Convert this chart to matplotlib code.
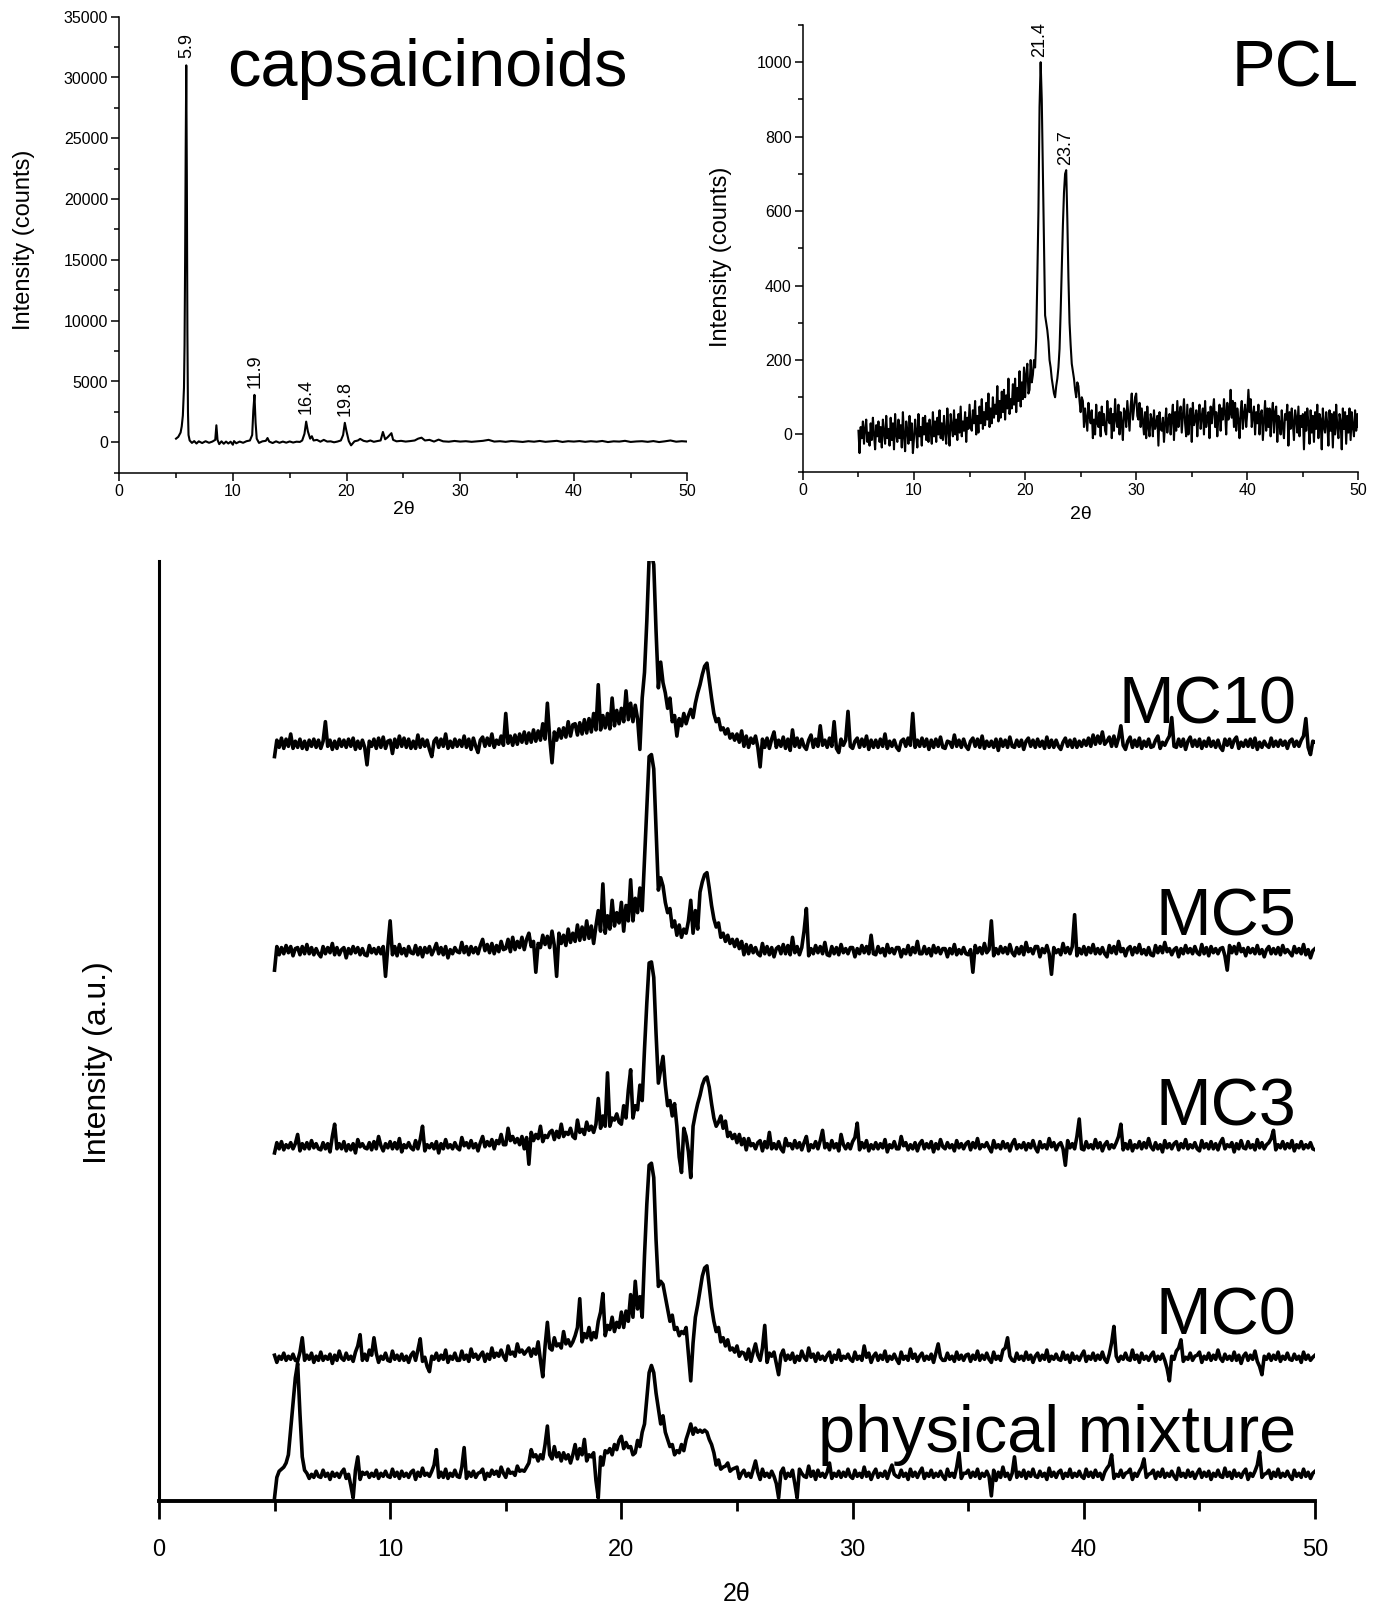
import numpy as np
import matplotlib
matplotlib.use("Agg")
import matplotlib.pyplot as plt
from matplotlib.ticker import MultipleLocator

plt.rcParams['font.family'] = ['Liberation Sans', 'DejaVu Sans']

# ---------------- data ----------------
# capsaicinoids (counts vs 2theta)
cap_two_theta = [5.0, 5.2, 5.4, 5.5, 5.6, 5.7, 5.75, 5.8, 5.85, 5.9,
                 5.95, 6.0, 6.05, 6.1, 6.2, 6.4, 6.6, 6.8, 7.0, 7.3,
                 7.6, 7.9, 8.2, 8.45, 8.55, 8.65, 8.8, 9.0, 9.2, 9.4,
                 9.6, 9.8, 10.0, 10.1, 10.3, 10.6, 10.9, 11.2, 11.5, 11.7,
                 11.8, 11.9, 12.0, 12.1, 12.3, 12.6, 12.9, 13.05, 13.2, 13.5,
                 13.8, 14.1, 14.4, 14.7, 15.0, 15.3, 15.6, 15.9, 16.1, 16.3,
                 16.45, 16.6, 16.8, 16.95, 17.1, 17.4, 17.7, 18.0, 18.3, 18.6,
                 18.9, 19.2, 19.5, 19.7, 19.85, 20.0, 20.2, 20.4, 20.7, 21.0,
                 21.2, 21.5, 21.8, 22.1, 22.4, 22.7, 23.0, 23.2, 23.4, 23.6,
                 23.8, 23.95, 24.1, 24.4, 24.8, 25.2, 25.6, 26.0, 26.3, 26.6,
                 26.9, 27.3, 27.7, 28.1, 28.5, 29.0, 29.5, 30.0, 30.5, 31.0,
                 31.5, 32.0, 32.5, 33.0, 33.5, 34.0, 34.5, 35.0, 35.5, 36.0,
                 36.5, 37.0, 37.5, 38.0, 38.5, 39.0, 39.5, 40.0, 40.5, 41.0,
                 41.5, 42.0, 42.5, 43.0, 43.5, 44.0, 44.5, 45.0, 45.5, 46.0,
                 46.5, 47.0, 47.5, 48.0, 48.5, 49.0, 49.5, 50.0]
cap_counts = [300, 450, 800, 1300, 2200, 4500, 8000, 15000, 24000, 31000,
              22000, 9000, 2500, 600, 150, -50, 100, -100, 80, -60,
              90, -40, 60, 200, 1400, 200, -150, 80, -120, 60,
              -100, 50, -200, 100, -80, 60, -40, 90, 150, 600,
              2600, 3900, 1600, 300, -50, 80, 120, 350, 60, -60,
              80, -40, 60, -30, 70, -20, 50, 30, 150, 700,
              1700, 900, 300, 500, 150, 200, 50, 200, 60, 80,
              0, 60, 150, 600, 1600, 900, 100, -250, 80, 150,
              280, 120, 60, 150, 40, 100, 150, 850, 250, 400,
              600, 750, 200, 80, 120, 60, 100, 150, 300, 380,
              150, 200, 60, 220, 80, 50, 110, 60, 90, 40,
              80, 120, 200, 60, 90, 40, 100, 70, 30, 90,
              50, 110, 40, 80, 120, 30, 90, 60, 100, 40,
              90, 50, 110, 20, 80, 60, 120, 30, 70, 90,
              40, 100, 20, 80, 150, 50, 90, 60]
cap_peak_labels = [5.9, 11.9, 16.4, 19.8]

# common 2theta scan grid (5-50 deg, 0.1 deg step) for PCL and the samples
two_theta = np.round(np.arange(5.0, 50.0001, 0.1), 1)

# each row = one degree (x.0 ... x.9); last row = 50.0
pcl_rows = [
    [10, -50, 20, -10, 35, -25, 15, 40, -20, 5],
    [-30, 30, -15, 45, 0, -40, 25, -5, 35, -20],
    [20, -35, 40, 5, -25, 50, -10, 15, -30, 45],
    [-15, 30, -40, 55, 0, -20, 40, -10, 25, -35],
    [60, -5, -45, 35, 10, -25, 50, -15, 30, -50],
    [-10, 40, 5, -35, 55, -5, 20, -30, 45, 0],
    [50, -15, 30, -20, 40, 10, -25, 60, -5, 35],
    [-20, 45, 0, 65, -10, 30, -15, 50, 5, -25],
    [70, 10, -30, 55, 20, -5, 65, 0, 40, -15],
    [55, 5, 75, -5, 35, 10, 60, -20, 45, 15],
    [80, 20, 10, 65, 30, 90, 0, 50, 5, 75],
    [30, 95, 15, 60, 25, 85, 40, 110, 20, 70],
    [30, 100, 45, 80, 55, 130, 35, 90, 45, 115],
    [60, 120, 40, 105, 70, 150, 55, 95, 70, 135],
    [80, 150, 60, 125, 90, 170, 75, 140, 95, 180],
    [100, 160, 190, 110, 120, 200, 140, 160, 200, 180],
    [260, 420, 600, 880, 1000, 900, 700, 480, 320, 300],
    [280, 250, 200, 180, 150, 130, 110, 100, 130, 150],
    [180, 230, 330, 450, 560, 650, 700, 710, 580, 420],
    [300, 240, 190, 170, 150, 120, 100, 140, 130, 90],
    [60, 100, 90, 20, 70, 40, 10, 85, 50, 30],
    [65, -10, 40, 0, 80, 30, 20, 60, -5, 75],
    [25, 55, 10, 0, 90, 40, 30, 70, -10, 55],
    [10, 95, 40, 20, 80, 0, 60, 30, -15, 70],
    [60, 20, 90, 50, 10, 75, 110, 40, 70, 100],
    [110, 50, 40, 85, 20, 70, 35, 0, 60, -10],
    [75, 20, -5, 55, 40, -5, 65, 15, 30, 50],
    [-30, 60, 15, 10, 45, -20, 30, 70, 5, 40],
    [55, 0, 45, 80, -15, 60, 10, 90, 20, 55],
    [75, 5, 50, 95, 30, -5, 80, 0, 45, 70],
    [-20, 85, 25, 40, 65, -5, 55, 80, 15, 50],
    [70, 0, 90, 20, 45, 60, -10, 75, 30, 65],
    [95, 20, 60, -5, 50, 80, 10, 70, 40, 95],
    [60, 0, 85, 40, 55, 120, 45, 90, 20, 85],
    [10, 70, 40, -10, 60, 90, 15, 55, 80, 20],
    [60, 120, 60, 95, 20, 50, 75, 0, 60, 30],
    [80, 0, 55, 65, -15, 40, 90, 10, 70, 20],
    [70, -5, 55, 85, 5, 60, 75, -20, 50, 30],
    [0, 65, 20, -10, 55, 40, 80, -30, 60, 15],
    [70, 30, -15, 65, 45, 5, 75, -5, 50, 20],
    [55, -40, 60, 10, 70, 30, -25, 65, 5, 50],
    [-20, 60, 15, 80, -10, 55, 40, -40, 70, 20],
    [5, 60, 30, -30, 65, 10, 55, -35, 60, 0],
    [80, 20, -10, 55, 35, -40, 70, 15, 60, -25],
    [50, 5, 70, -15, 60, 20, -5, 65, 10, 55],
    [20],
]
pcl_peak_labels = [21.4, 23.7]

# stacked samples (a.u., relative to each trace's own baseline)
mc10_rows = [
    [-12, 4, -3, 6, -4, 5, -2, 10, -4, 3],
    [-3, 5, -4, 3, -5, 4, -2, 5, -3, 4],
    [-4, 3, 22, -2, 4, -5, 3, -4, 5, -2],
    [4, -3, 5, -2, 6, -5, 3, -4, 4, -3],
    [-20, 3, -2, 5, -4, 6, -3, 7, -4, 3],
    [4, -9, 5, -3, 8, -2, 6, -3, 5, -4],
    [3, -4, 9, -3, 5, -2, 4, -5, -12, 3],
    [6, -3, 5, -2, 10, -4, 3, -3, 5, -2],
    [4, -2, 8, -3, 5, -5, 6, -2, -8, 4],
    [7, -2, 6, -1, 10, -3, 4, 0, 8, -1],
    [30, 1, 8, -1, 9, 0, 10, 2, 12, 1],
    [11, 2, 14, 3, 13, 4, 20, 5, 40, 6],
    [-18, 12, 4, 15, 6, 16, 7, 22, 8, 19],
    [20, 9, 21, 10, 24, 11, 25, 12, 30, 14],
    [58, 14, 28, 16, 30, 15, 45, 18, 33, 20],
    [35, 22, 52, 24, 40, 22, 38, 25, -5, 45],
    [70, 120, 182, 185, 175, 110, 55, 80, 60, 50],
    [35, 45, 22, 28, 8, 25, 18, 30, 20, 28],
    [34, 26, 40, 50, 58, 68, 76, 79, 62, 45],
    [30, 22, 25, 14, 16, 10, 15, 6, 10, 4],
    [10, 2, 13, -2, 8, -3, 6, 1, 8, -3],
    [-22, 5, -3, 6, -4, 5, 12, -3, 4, -2],
    [7, -4, 5, -6, 14, -2, 6, -3, 5, -2],
    [-5, 4, 9, -3, 5, -2, 18, -1, 4, -3],
    [6, -2, 22, -4, -8, 5, -1, 4, 32, -2],
    [-4, 3, 6, -3, 5, -2, 8, -5, 4, -3],
    [4, -3, 5, -2, 10, -4, 3, -2, 4, -3],
    [-6, 3, 5, -2, 6, -1, 30, -3, 4, -2],
    [6, -2, 5, -5, 4, -3, 5, -2, 7, -3],
    [-4, 3, 2, -3, 9, -2, 4, -3, 5, -2],
    [-5, 3, 6, -2, 5, -3, 8, -4, 3, -2],
    [3, -3, 5, -6, 5, -2, 4, -3, 7, -2],
    [-3, 4, -2, 4, -5, 3, 6, -2, 4, -3],
    [5, -2, 3, -4, 7, -3, 4, -3, 4, -2],
    [-5, 2, 6, -2, 4, -3, 5, -3, 3, -2],
    [4, -1, 6, -2, 9, 0, 8, 1, 12, 0],
    [3, 7, -2, 8, -2, 6, 18, -1, -5, 3],
    [7, -3, 4, -2, 6, -4, 3, -2, 5, -3],
    [-2, 4, 8, -4, 2, -1, 4, 8, 26, -2],
    [-3, 5, -2, 5, -5, 3, 7, -2, 4, -2],
    [5, -4, 3, -2, 6, -2, 3, -3, 4, -3],
    [-6, 5, -1, 5, -3, 4, 7, -4, 2, -2],
    [4, -2, 5, -3, 6, -5, 2, -3, 3, -1],
    [-3, 6, -2, 3, -2, 4, -1, 3, -4, 3],
    [5, -2, 3, -2, 4, 8, 25, -3, -10, 3],
    [2],
]
mc5_rows = [
    [-18, 5, -3, 4, -2, 6, -1, 5, -4, 3],
    [4, -3, 5, -2, 7, -2, 4, -3, 3, -2],
    [-5, 5, -2, 4, -1, 8, -3, 4, -3, 2],
    [4, -6, 3, -2, 5, -1, 4, -3, 3, -3],
    [-4, 6, -1, 3, -2, 4, -2, 5, -24, 5],
    [30, -3, 5, -4, 7, -2, 3, -4, 5, -1],
    [-2, 6, -3, 4, -5, 4, -1, 5, -3, 2],
    [8, -2, 4, -3, 5, -6, 2, -2, 4, 0],
    [-1, 9, -1, 5, -3, 5, -1, 4, -2, 6],
    [12, 1, 7, -1, 8, -2, 6, 0, 10, 2],
    [3, 12, 0, 14, 2, 10, 4, 14, 2, 12],
    [18, 5, 10, -20, 8, 4, 16, 7, 15, 4],
    [20, 6, -24, 18, 8, 16, 6, 22, 9, 18],
    [10, 26, 11, 24, 12, 30, 13, 25, 8, 25],
    [40, 20, 66, 18, 35, 22, 50, 25, 38, 28],
    [48, 20, 45, 30, 70, 30, 52, 38, 62, 40],
    [90, 140, 190, 192, 178, 120, 60, 72, 64, 48],
    [38, 42, 24, 30, 16, 26, 14, 22, 18, 30],
    [50, 18, 40, 22, 58, 68, 75, 77, 62, 45],
    [32, 24, 28, 14, 18, 10, 16, 8, 12, 5],
    [12, 3, 10, -3, 7, -2, 6, -1, 4, -2],
    [-4, 8, -2, 5, -3, 4, -5, 3, 5, -2],
    [7, -2, 6, -3, 14, -1, 5, -3, 4, 20],
    [42, -4, 3, -2, 6, -1, 5, -2, 9, -3],
    [-4, 5, -2, 4, -3, 7, -1, 3, -2, 4],
    [4, -5, 3, -2, 6, -1, 5, -2, 16, -2],
    [-3, 5, -1, 3, -4, 7, -1, 3, -2, 4],
    [4, -5, 2, -2, 6, -3, 4, -1, 10, -2],
    [-2, 5, -2, 3, -4, 6, -1, 4, -2, 3],
    [3, -5, 3, -2, 7, -3, 2, -2, 4, -2],
    [-3, 2, -20, 6, -1, 4, -2, 8, -1, 2],
    [30, -4, 3, -2, 5, -1, 4, -2, 7, -1],
    [-4, 4, -2, 5, -3, 9, 0, 3, -2, 5],
    [5, -5, 3, -1, 6, -2, -22, 4, -1, 2],
    [-3, 8, -1, 4, -2, 5, 36, -4, 3, -2],
    [5, -3, 4, -1, 7, -2, 3, -2, 4, -2],
    [-5, 6, -1, 5, -2, 10, 0, 3, -4, 3],
    [5, -3, 4, -1, 7, -2, 2, -3, 4, -3],
    [-4, 6, -1, 5, -1, 9, 0, 3, -3, 2],
    [4, -5, 3, -2, 6, -1, 3, -2, 5, -1],
    [-3, 7, -2, 4, -4, 5, -1, 3, -2, 3],
    [4, -4, -18, 6, -1, 5, -2, 8, 0, 3],
    [-4, 4, -1, 3, -2, 6, -2, 2, -5, 2],
    [5, -2, 3, -2, 4, -3, 6, -1, 2, -1],
    [-4, 5, -1, 3, -2, 7, -3, 2, -6, 1],
    [3],
]
mc3_rows = [
    [-6, 4, -2, 5, -3, 2, -1, 4, -2, 3],
    [12, -4, 3, -2, 4, -2, 6, -1, 3, -2],
    [-3, 4, -2, 3, -5, 10, 22, -2, 3, -2],
    [5, -4, 2, -3, 3, -6, 7, 0, 3, -1],
    [-2, 4, -3, 5, -2, 10, 1, -4, 3, -1],
    [5, -2, 4, -2, 8, -5, 2, -1, 4, -1],
    [-3, 6, -2, 7, 20, -4, 2, -1, 3, -2],
    [5, -6, 3, -2, 7, -1, 2, -2, 4, -1],
    [-3, 9, 1, 4, -1, 6, -1, 3, -4, 4],
    [10, 0, 5, 1, 7, -2, 6, 3, 12, 2],
    [2, 18, 6, 10, 4, 8, 2, 10, -2, 9],
    [-17, 14, 6, 12, 8, 20, 5, 11, 9, 14],
    [16, 7, 15, 9, 22, 10, 14, 12, 18, 10],
    [8, 26, 14, 17, 12, 24, 16, 20, 14, 22],
    [47, 18, 30, 20, 72, 20, 28, 26, 32, 24],
    [22, 40, 28, 55, 75, 28, 40, 36, 60, 45],
    [95, 140, 179, 180, 165, 110, 62, 75, 88, 60],
    [40, 45, 30, 42, 20, -10, -25, 18, 10, -5],
    [-30, 20, 32, 42, 50, 60, 66, 68, 58, 42],
    [28, 20, 24, 30, 18, 25, 10, 14, 8, 12],
    [4, 12, 2, 8, -3, 8, 1, 3, -2, 4],
    [6, -4, 5, -1, 14, -2, 3, -2, 5, -2],
    [-5, 8, 1, 3, -2, 6, -1, 4, -3, 4],
    [10, -4, 2, -1, 5, -2, 6, 16, -1, 3],
    [-3, 6, -1, 3, -4, 12, 2, -2, 3, -2],
    [5, 9, 23, -3, 4, -1, 6, -4, 2, -2],
    [4, -2, 3, -1, 7, -5, 2, -1, 5, -2],
    [-2, 10, 1, 4, -3, 2, -2, 4, -4, 3],
    [6, -2, 3, -1, 5, -5, 3, -2, 7, 0],
    [-2, 4, -1, 2, -4, 6, -1, 3, -2, 3],
    [5, -3, 4, -1, 8, -2, 2, 0, 4, -1],
    [-5, 6, -1, 2, -2, 5, -1, 3, -4, 3],
    [7, -2, 2, -1, 4, -3, 3, -1, 6, -1],
    [-5, 5, -1, 2, -2, 8, 0, 4, -3, 2],
    [4, -2, -18, 6, -1, 3, -2, 10, 27, -2],
    [-3, 5, -1, 2, -2, 7, -1, 4, -4, 2],
    [5, -2, 2, -1, 4, 10, 22, -3, 3, -2],
    [6, -4, 2, -1, 5, -2, 4, -1, 8, 0],
    [-3, 4, -2, 2, -5, 6, -1, 3, -2, 3],
    [5, -3, 3, -1, 7, -2, 2, -1, 4, -2],
    [-4, 6, -1, 3, -2, 5, -2, 3, -3, 4],
    [8, -2, 2, 0, 4, -5, 3, -2, 6, -1],
    [-2, 5, -1, 2, -3, 7, -1, 4, -2, 2],
    [4, 8, 16, -3, 2, -1, 5, -2, 3, -1],
    [6, -4, 2, -1, 5, -2, 2, -1, 4, -2],
    [-3],
]
mc0_rows = [
    [3, -4, 2, -1, 5, -2, 2, -1, 4, -2],
    [-3, 6, 20, -2, 3, -1, 5, -4, 2, -2],
    [6, -2, 2, -1, 4, -5, 3, -2, 7, 0],
    [-2, 5, -1, 2, -3, 6, 12, 23, -2, 4],
    [-2, 8, 3, 20, 5, -4, 2, -1, 5, -2],
    [-3, 7, -1, 3, -2, 4, -2, 2, -4, 3],
    [6, -2, 8, 19, -3, 1, -8, -13, 2, -1],
    [5, -2, 3, -1, 8, -4, 2, -1, 5, -2],
    [-2, 7, -1, 3, -3, 9, 1, 4, -1, 3],
    [6, -3, 4, -1, 10, 1, 5, 2, 8, 2],
    [-2, 12, 4, 6, 2, 14, 6, 8, 4, 7],
    [10, 2, 9, 4, 16, -2, -18, 12, 35, 10],
    [8, 20, 12, 14, 10, 26, 14, 18, 12, 16],
    [22, 30, 58, 16, 24, 20, 30, 18, 25, 20],
    [36, 45, 63, 22, 32, 28, 40, 26, 35, 30],
    [45, 30, 46, 36, 62, 40, 75, 48, 60, 40],
    [100, 150, 188, 190, 176, 115, 70, 75, 72, 60],
    [48, 36, 42, 28, 30, 22, 26, 24, 30, 4],
    [-22, 15, 40, 52, 66, 80, 88, 90, 70, 50],
    [36, 26, 30, 16, 20, 12, 18, 8, 10, 6],
    [12, 2, 6, 5, -1, 9, -3, 6, 14, 3],
    [-2, 10, 32, -4, 5, 2, 6, -5, -16, 3],
    [8, -2, 3, -1, 5, -4, 2, -2, 7, 1],
    [-2, 10, 1, 4, -3, 5, -1, 2, -2, 3],
    [6, -4, 3, -1, 8, -2, 2, 0, 4, -1],
    [-3, 6, -1, 2, -2, 12, 1, 5, -4, 2],
    [5, -2, 3, -1, 7, -3, 2, -1, 4, -1],
    [-5, 6, -1, 2, -2, 9, 0, 4, -3, 2],
    [5, -2, 2, -1, 4, -4, 5, 14, 1, -2],
    [-2, 5, -1, 2, -3, 6, -1, 3, -2, 3],
    [4, -3, 3, -1, 7, -2, 3, -1, 5, -1],
    [-4, 6, -1, 2, -2, 8, 10, 20, 2, -2],
    [-3, 5, -1, 2, -2, 6, -1, 3, -4, 2],
    [5, -2, 3, -1, 8, -3, 2, -1, 4, -1],
    [-2, 6, -1, 3, -4, 5, -1, 2, -2, 3],
    [7, -3, 2, -1, 5, -2, 3, -1, 6, -1],
    [-4, 4, 15, 31, 2, -3, 2, -1, 5, -1],
    [-2, 8, -1, 3, -4, 5, -1, 2, -2, 3],
    [6, -3, 2, -1, 4, -2, -10, -22, 2, -1],
    [7, 10, 18, -3, 1, -1, 5, -2, 2, 3],
    [6, -4, 2, -1, 5, -2, 3, -1, 8, 0],
    [-3, 4, -1, 2, -2, 6, -2, 3, -5, 2],
    [5, -2, 3, -1, 7, -3, -8, -16, 2, -1],
    [4, -2, 3, -1, 6, -3, 2, -1, 5, -1],
    [-2, 4, -1, 2, -4, 6, -1, 3, -2, 1],
    [3],
]
physical_mixture_rows = [
    [-22, -2, 4, 6, 8, 12, 20, 45, 70, 95],
    [109, 60, 18, 5, 2, -3, 1, -2, 4, -1],
    [-2, 5, -1, 2, -4, 3, -1, 2, -2, 3],
    [6, -3, 1, -10, -22, 5, 18, -4, 3, 1],
    [3, -2, 2, -1, 5, -3, 2, -1, 4, -1],
    [-2, 6, -1, 3, -3, 4, -1, 2, -2, 3],
    [5, -4, 3, -1, 7, 0, 2, -1, 4, 10],
    [25, -2, 3, -2, 6, -3, 2, -1, 5, -1],
    [-2, 8, 27, -3, 3, -1, 4, -2, 2, 3],
    [6, -4, 2, -1, 5, 1, 4, -1, 8, 2],
    [-2, 6, 2, 3, 0, 9, 4, 5, 4, 8],
    [12, 25, 18, 20, 14, 20, 16, 30, 48, 20],
    [16, 28, 18, 22, 14, 22, 16, 20, 12, 20],
    [30, 16, 26, 20, 35, 14, 20, 18, 22, -5],
    [-22, 18, 10, 24, 22, 26, 20, 30, 25, 34],
    [38, 26, 32, 27, 28, 20, 22, 34, 28, 42],
    [50, 75, 100, 107, 100, 80, 65, 50, 58, 42],
    [35, 28, 30, 20, 24, 22, 30, 24, 35, 42],
    [50, 40, 46, 42, 44, 42, 44, 42, 35, 30],
    [22, 10, 15, 6, 8, 9, 12, 4, 6, 7],
    [8, -3, 2, 5, -1, 2, -2, 6, 14, 3],
    [-4, 6, -1, 2, -2, 4, -1, -8, -22, 3],
    [7, -3, 2, -1, 5, -8, -22, 6, 2, -1],
    [-2, 9, -1, 4, -4, 5, -1, 2, -2, 3],
    [12, -3, 2, -1, 4, -2, 3, -1, 6, -1],
    [-3, 5, -1, 2, -2, 8, -1, 3, -4, 2],
    [6, -2, 2, -1, 4, -3, 4, 10, 1, -1],
    [-2, 5, -1, 2, -4, 6, -1, 3, -2, 3],
    [7, -3, 2, -1, 5, -2, 2, -1, 4, -1],
    [-4, 6, -1, 2, -2, 8, 22, -3, 2, 2],
    [5, -2, 3, -1, 6, -3, 2, -1, 4, -1],
    [-20, 5, -5, 3, -2, 8, -1, 2, -4, 2],
    [18, -2, 3, -1, 5, -3, 3, -1, 6, -1],
    [-2, 4, -1, 2, -4, 7, -1, 3, -2, 3],
    [5, -3, 2, -1, 6, -2, 2, -1, 4, -1],
    [-3, 6, -1, 3, -2, 5, -1, 2, -4, 3],
    [7, 10, 20, -3, 1, -1, 5, -2, 2, 3],
    [6, -4, 2, -1, 4, 8, 16, -2, 1, 2],
    [5, -3, 3, -1, 6, -2, 2, -1, 4, -1],
    [-4, 7, -1, 2, -2, 5, -1, 3, -3, 2],
    [6, -2, 3, -1, 4, -4, 2, -1, 5, -1],
    [-2, 7, -1, 3, -3, 5, -1, 2, -2, 3],
    [6, -4, 2, -1, 4, 10, 23, -2, 1, 2],
    [5, -3, 3, -1, 6, -2, 2, -1, 4, -1],
    [-4, 5, -1, 2, -2, 6, -1, 3, -3, 2],
    [4],
]

sample_names = ["physical mixture", "MC0", "MC3", "MC5", "MC10"]
sample_rows = [physical_mixture_rows, mc0_rows, mc3_rows, mc5_rows, mc10_rows]
sample_offsets = [25, 139, 345, 535, 737]
label_baselines = [48, 162, 366, 551, 757]


def flatten(rows):
    vals = np.array([v for r in rows for v in r], dtype=float)
    assert len(vals) == len(two_theta), len(vals)
    return vals


pcl_counts = flatten(pcl_rows)

# ---------------- figure ----------------
W, H = 1384, 1610
fig = plt.figure(figsize=(W / 100, H / 100), dpi=100)


def frac(left, top, right, bottom):
    return [left / W, 1 - bottom / H, (right - left) / W, (bottom - top) / H]


ax1 = fig.add_axes(frac(119.2, 16.7, 687.5, 472.7))
ax2 = fig.add_axes(frac(802.9, 25.0, 1358.4, 471.7))
ax3 = fig.add_axes(frac(158.9, 561.0, 1315.1, 1501.0))

for ax in (ax1, ax2):
    ax.spines['top'].set_visible(False)
    ax.spines['right'].set_visible(False)
    for s in ('left', 'bottom'):
        ax.spines[s].set_linewidth(1.1)
    ax.tick_params(which='both', direction='out', width=1.1, pad=2)
    ax.tick_params(which='major', length=6, labelsize=11.5)
    ax.tick_params(which='minor', length=3.5)
    ax.set_xlim(0, 50)
    ax.xaxis.set_major_locator(MultipleLocator(10))
    ax.xaxis.set_minor_locator(MultipleLocator(5))

# --- capsaicinoids ---
ax1.plot(cap_two_theta, cap_counts, color='black', lw=1.5)
ax1.set_ylim(-2500, 35000)
ax1.yaxis.set_major_locator(MultipleLocator(5000))
ax1.yaxis.set_minor_locator(MultipleLocator(2500))
cx = np.array(cap_two_theta)
cy = np.array(cap_counts)
for p in cap_peak_labels:
    top = cy[np.abs(cx - p) <= 0.25].max()
    ax1.text(p + 0.05, top + 600, f"{p:.1f}", rotation=90, ha='center', va='bottom', fontsize=13)
ax1.text(27.1, 29300, "capsaicinoids", ha='center', va='baseline', fontsize=48)
ax1.set_ylabel("Intensity (counts)", fontsize=17)
ax1.yaxis.set_label_coords(-0.168, 0.51)
ax1.yaxis.label.set_va('center')
ax1.set_xlabel("2θ", fontsize=14)
ax1.xaxis.set_label_coords(0.5, -0.08)
ax1.xaxis.label.set_va('center')

# --- PCL ---
ax2.plot(two_theta, pcl_counts, color='black', lw=1.5)
ax2.set_ylim(-100, 1100)
ax2.yaxis.set_major_locator(MultipleLocator(200))
ax2.yaxis.set_minor_locator(MultipleLocator(100))
for p in pcl_peak_labels:
    top = pcl_counts[np.abs(two_theta - p) <= 0.15].max()
    ax2.text(p - 0.05, top + 15, f"{p:.1f}", rotation=90, ha='center', va='bottom', fontsize=13)
ax2.text(50, 936, "PCL", ha='right', va='baseline', fontsize=47)
ax2.set_ylabel("Intensity (counts)", fontsize=17)
ax2.yaxis.set_label_coords(-0.147, 0.48)
ax2.yaxis.label.set_va('center')
ax2.set_xlabel("2θ", fontsize=14)
ax2.xaxis.set_label_coords(0.5, -0.095)
ax2.xaxis.label.set_va('center')

# --- stacked samples ---
for name, rows, off, lb in zip(sample_names, sample_rows, sample_offsets, label_baselines):
    ax3.plot(two_theta, flatten(rows) + off, color='black', lw=2.6)
    ax3.text(49.2, lb, name, ha='right', va='baseline', fontsize=48)
ax3.set_xlim(0, 50)
ax3.set_ylim(0, 915.5)
ax3.spines['top'].set_visible(False)
ax3.spines['right'].set_visible(False)
ax3.spines['left'].set_linewidth(2.2)
ax3.spines['bottom'].set_linewidth(2.8)
ax3.set_yticks([])
ax3.xaxis.set_major_locator(MultipleLocator(10))
ax3.xaxis.set_minor_locator(MultipleLocator(5))
ax3.tick_params(axis='x', which='both', direction='out', width=2.0)
ax3.tick_params(axis='x', which='major', length=13, labelsize=17, pad=14)
ax3.tick_params(axis='x', which='minor', length=7)
ax3.set_ylabel("Intensity (a.u.)", fontsize=23)
ax3.yaxis.set_label_coords(-0.053, 0.466)
ax3.yaxis.label.set_va('center')
ax3.set_xlabel("2θ", fontsize=18)
ax3.xaxis.set_label_coords(0.5, -0.099)
ax3.xaxis.label.set_va('center')

fig.savefig("out.png", dpi=100)
